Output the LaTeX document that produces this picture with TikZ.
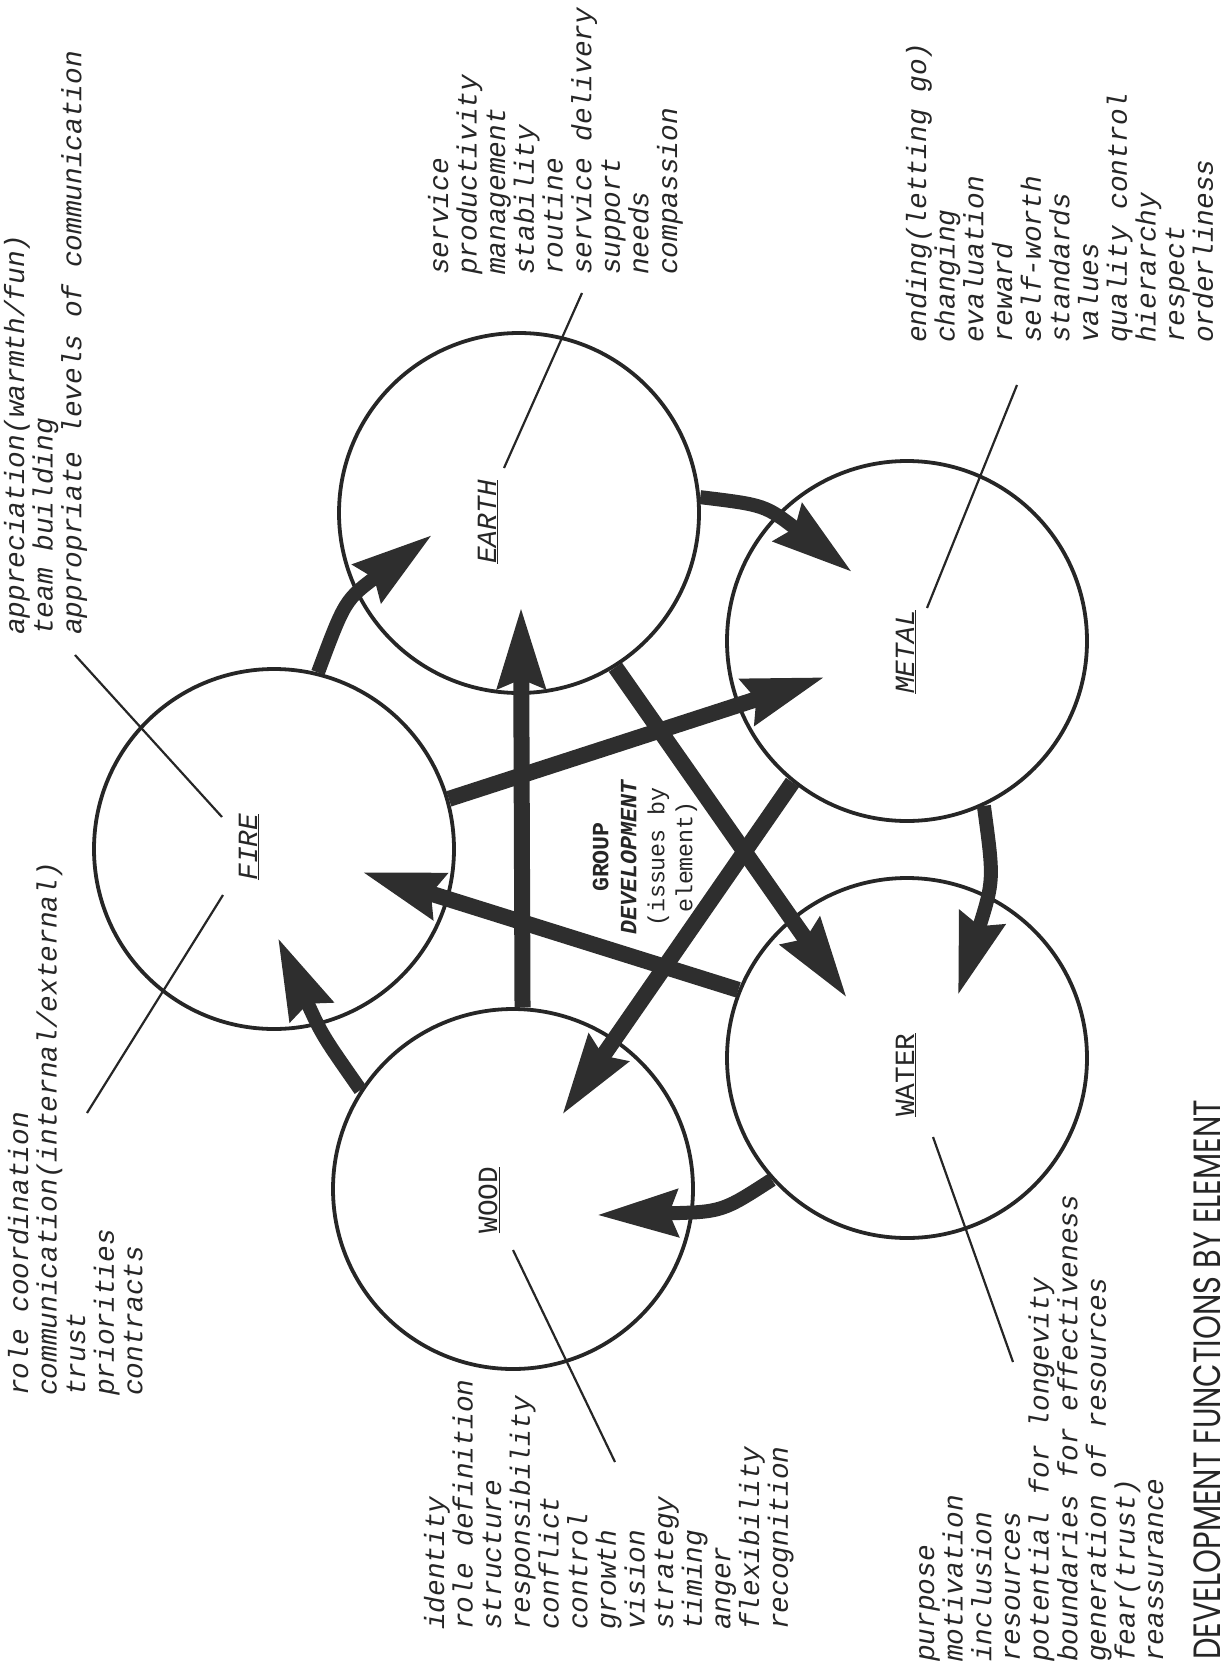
\documentclass[tikz,border=0pt]{standalone}
\usepackage{fontspec}
\usepackage{graphicx}
\setmainfont{Liberation Mono}
\newfontfamily\titlefont{Poppins}
\usetikzlibrary{arrows.meta}
\definecolor{ink}{HTML}{262626}
\definecolor{arrowink}{HTML}{2E2E2E}
\begin{document}
\begin{tikzpicture}[x=1pt,y=-1pt,
  elem/.style={circle, draw=ink, line width=3.8pt, minimum size=360pt, inner sep=0pt},
  lbl/.style={rotate=90, font=\fontsize{27.8}{28.5}\selectfont, text=ink, inner sep=0pt},
  block/.style={rotate=90, anchor=base west, inner sep=0pt, text=ink, font=\fontsize{27.8}{28.5}\selectfont\itshape},
  straightarrow/.style={draw=arrowink, line width=16pt, -{Stealth[length=80pt,width=46pt,inset=8pt]}},
  curvedarrow/.style={draw=arrowink, line width=14pt, -{Stealth[length=80pt,width=46pt,inset=8pt]}},
  leader/.style={draw=ink, line width=2.2pt},
]
\useasboundingbox (0,0) rectangle (1223,1667);

% circles
\node[elem] (fire)  at (274,849) {};
\node[elem] (earth) at (519,513) {};
\node[elem] (metal) at (907,641) {};
\node[elem] (water) at (907,1058) {};
\node[elem] (wood)  at (513,1189) {};

% element labels
\node[lbl] (firelbl)  at (249,847)  {\underline{\itshape FIRE}};
\node[lbl] (earthlbl) at (488,522)  {\underline{\itshape EARTH}};
\node[lbl] (metallbl) at (906,652)  {\underline{\itshape METAL}};
\node[lbl] (waterlbl) at (906,1075) {\underline{WATER}};
\node[lbl] (woodlbl)  at (489,1200) {\underline{WOOD}};

% centre text
\node[rotate=90, align=center, inner sep=0pt, text=ink,
      font=\fontsize{23.3}{28}\selectfont] (centre) at (645,857)
  {\textbf{GROUP}\\\textbf{\textit{DEVELOPMENT}}\\(issues by\\element)};

% text blocks
\node[block] (firetop) at (24,635) {\begin{tabular}[t]{@{}l@{}}
appreciation(warmth/fun)\\ team building\\ appropriate levels of communication\end{tabular}};
\node[block] (firebot) at (28,1396) {\begin{tabular}[t]{@{}l@{}}
role coordination\\ communication(internal/external)\\ trust\\ priorities\\ contracts\end{tabular}};
\node[block] (earthtxt) at (448,275) {\begin{tabular}[t]{@{}l@{}}
service\\ productivity\\ management\\ stability\\ routine\\ service delivery\\ support\\ needs\\ compassion\end{tabular}};
\node[block] (metaltxt) at (926,343) {\begin{tabular}[t]{@{}l@{}}
ending(letting go)\\ changing\\ evaluation\\ reward\\ self-worth\\ standards\\ values\\ quality control\\ hierarchy\\ respect\\ orderliness\end{tabular}};
\node[block] (woodtxt) at (444,1630) {\begin{tabular}[t]{@{}l@{}}
identity\\ role definition\\ structure\\ responsibility\\ conflict\\ control\\ growth\\ vision\\ strategy\\ timing\\ anger\\ flexibility\\ recognition\end{tabular}};
\node[block] (watertxt) at (934,1662) {\begin{tabular}[t]{@{}l@{}}
purpose\\ motivation\\ inclusion\\ resources\\ potential for longevity\\ boundaries for effectiveness\\ generation of resources\\ fear(trust)\\ reassurance\end{tabular}};

% title
\node[rotate=90, anchor=base west, inner sep=0pt, text=ink,
      font=\titlefont\fontsize{38}{38}\selectfont] (title) at (1220,1660)
  {\scalebox{0.8}[1]{DEVELOPMENT FUNCTIONS BY ELEMENT}};

% leader lines
\coordinate (fa1) at (222,817);  \coordinate (fa2) at (75,655);
\coordinate (fb1) at (223,895);  \coordinate (fb2) at (87,1113);
\coordinate (ea1) at (504,468);  \coordinate (ea2) at (582,293);
\coordinate (me1) at (927,608);  \coordinate (me2) at (1017,385);
\coordinate (wa1) at (933,1137); \coordinate (wa2) at (1013,1362);
\coordinate (wo1) at (513,1250); \coordinate (wo2) at (615,1462);
\draw[leader] (fa1) -- (fa2);
\draw[leader] (fb1) -- (fb2);
\draw[leader] (ea1) -- (ea2);
\draw[leader] (me1) -- (me2);
\draw[leader] (wa1) -- (wa2);
\draw[leader] (wo1) -- (wo2);

% arrow tips
\coordinate (tFE) at (432,535);
\coordinate (tEM) at (852,572);
\coordinate (tMW) at (958,995);
\coordinate (tWW) at (597,1215);
\coordinate (tWF) at (278,938);
\coordinate (tFM) at (825,677);
\coordinate (tEWa) at (847,998);
\coordinate (tMWo) at (562,1115);
\coordinate (tWaF) at (362,872);
\coordinate (tWoE) at (521,607);

% straight (star) arrows
\draw[straightarrow] (fire.16) -- (tFM);
\draw[straightarrow] (earth.-58.6) -- (tEWa);
\draw[straightarrow] (metal.231.7) -- (tMWo);
\draw[straightarrow] (water.158.7) -- (tWaF);
\draw[straightarrow] (wood.87.5) -- (tWoE);

% curved (cycle) arrows
\draw[curvedarrow] (fire.76) .. controls (345,600) .. (tFE);
\draw[curvedarrow] (earth.5) .. controls (765,505) .. (tEM);
\draw[curvedarrow] (metal.-65) .. controls (994,880) .. (tMW);
\draw[curvedarrow] (water.222) .. controls (722,1212) .. (tWW);
\draw[curvedarrow] (wood.147.6) .. controls (322,1035) .. (tWF);
\end{tikzpicture}
\end{document}
